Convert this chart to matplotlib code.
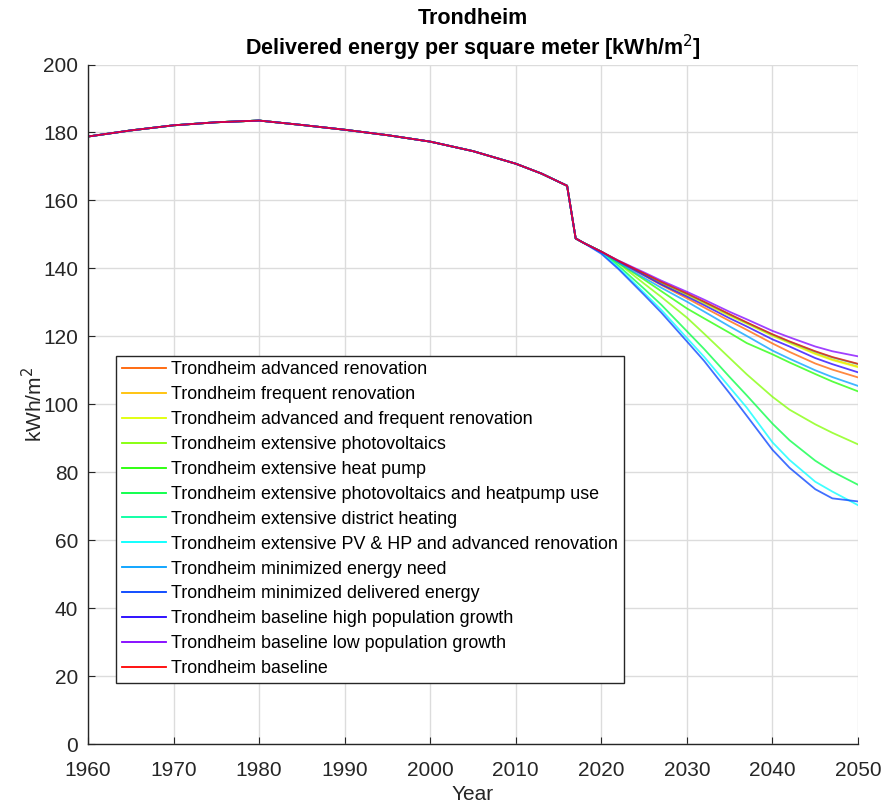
import matplotlib
matplotlib.use("Agg")
import matplotlib.pyplot as plt
import colorsys

plt.rcParams['font.family'] = ['Liberation Sans', 'DejaVu Sans']

# common history (all scenarios share it)
hist_years = [1960, 1965, 1970, 1975, 1980, 1985, 1990, 1995, 2000, 2005, 2010, 2013, 2016, 2017, 2018]
hist_vals = [178.8, 180.6, 182.1, 183.0, 183.5, 182.2, 180.8, 179.2, 177.3, 174.5, 170.8, 167.9, 164.3, 148.8, 147.4]

# scenario projections
fut_years = [2020, 2022, 2025, 2027, 2030, 2032, 2035, 2037, 2040, 2042, 2045, 2047, 2050]

labels = [
    "Trondheim advanced renovation",
    "Trondheim frequent renovation",
    "Trondheim advanced and frequent renovation",
    "Trondheim extensive photovoltaics",
    "Trondheim extensive heat pump",
    "Trondheim extensive photovoltaics and heatpump use",
    "Trondheim extensive district heating",
    "Trondheim extensive PV & HP and advanced renovation",
    "Trondheim minimized energy need",
    "Trondheim minimized delivered energy",
    "Trondheim baseline high population growth",
    "Trondheim baseline low population growth",
    "Trondheim baseline",
]

adv_renov      = [144.9, 142.0, 137.9, 135.1, 131.2, 128.5, 124.5, 121.9, 117.9, 115.4, 112.0, 110.2, 107.9]
freq_renov     = [144.9, 142.2, 138.3, 135.8, 132.3, 129.9, 126.2, 123.9, 120.3, 118.2, 115.0, 113.2, 111.1]
adv_freq_renov = [144.9, 142.1, 138.2, 135.6, 132.1, 129.7, 126.0, 123.7, 120.1, 118.0, 114.8, 113.0, 110.9]
ext_pv         = [144.9, 141.5, 135.5, 131.6, 125.5, 120.8, 113.6, 108.8, 102.2, 98.4, 94.1, 91.6, 88.2]
ext_hp         = [144.9, 141.6, 136.7, 133.3, 128.2, 125.3, 121.0, 118.0, 114.7, 112.3, 108.9, 106.7, 103.8]
ext_pv_hp      = [144.9, 140.8, 134.0, 129.3, 121.5, 116.3, 108.0, 102.6, 94.3, 89.4, 83.4, 80.2, 76.3]
ext_dh         = [144.9, 142.2, 138.4, 135.9, 132.5, 130.1, 126.4, 124.0, 120.5, 118.4, 115.5, 113.8, 111.8]
ext_pv_hp_adv  = [144.6, 140.2, 132.8, 127.8, 119.5, 114.0, 105.0, 99.0, 88.8, 83.6, 77.2, 74.3, 70.3]
min_need       = [144.9, 141.7, 137.2, 134.3, 130.2, 127.3, 122.9, 120.1, 115.8, 113.4, 110.0, 108.0, 105.4]
min_delivered  = [144.3, 139.8, 132.2, 127.0, 118.5, 112.8, 103.2, 96.6, 86.6, 81.3, 75.0, 72.3, 71.4]
high_pop       = [144.9, 142.1, 138.0, 135.3, 131.7, 129.2, 125.3, 122.9, 119.1, 117.0, 113.6, 111.8, 109.4]
low_pop        = [144.9, 142.3, 138.8, 136.4, 133.1, 130.8, 127.2, 125.0, 121.6, 119.7, 117.0, 115.6, 114.1]
baseline       = [144.9, 142.2, 138.5, 136.0, 132.6, 130.2, 126.5, 124.1, 120.6, 118.5, 115.6, 113.9, 111.9]

series = [adv_renov, freq_renov, adv_freq_renov, ext_pv, ext_hp, ext_pv_hp, ext_dh,
          ext_pv_hp_adv, min_need, min_delivered, high_pop, low_pop, baseline]

fig = plt.figure(figsize=(8.81, 8.07), dpi=100)
ax = fig.add_axes([88 / 881, 1 - 744 / 807, 770 / 881, 679.5 / 807])

n = len(series)
for i, (lab, vals) in enumerate(zip(labels, series)):
    if i == n - 1:
        col = (1.0, 0.0, 0.0)
    else:
        col = colorsys.hsv_to_rgb((i + 1) / 16, 1.0, 1.0)
    xs = hist_years + fut_years
    ys = hist_vals + vals
    ax.plot(xs, ys, color=col, lw=1.3, alpha=0.75, label=lab)

ax.set_xlim(1960, 2050)
ax.set_ylim(0, 200)
ax.set_xticks(range(1960, 2051, 10))
ax.set_yticks(range(0, 201, 20))
ax.grid(True, color='#dcdcdc', lw=1)
ax.set_axisbelow(True)
for s in ['top', 'right']:
    ax.spines[s].set_visible(False)
for s in ['left', 'bottom']:
    ax.spines[s].set_color('#262626')
    ax.spines[s].set_linewidth(1)
ax.tick_params(direction='in', length=5, labelsize=15, colors='#262626')
ax.tick_params(axis='x', pad=12)
ax.tick_params(axis='y', pad=7)

ax.set_xlabel("Year", fontsize=15, color='#262626', labelpad=4)
ax.set_ylabel("kWh/m$^2$", fontsize=15, color='#262626', labelpad=-2)

# two-line bold title
fig.text(473 / 881, 1 - 19 / 807, "Trondheim", ha='center', va='center',
         fontsize=15.5, fontweight='bold')
fig.text(473 / 881, 1 - 48 / 807, "Delivered energy per square meter [kWh/m$^2$]",
         ha='center', va='center', fontsize=15.5, fontweight='bold')

leg = ax.legend(loc='lower left', bbox_to_anchor=(0.0364, 0.0898), borderaxespad=0,
                fontsize=12.9, frameon=True, fancybox=False, framealpha=1,
                edgecolor='#262626', handlelength=2.45, handletextpad=0.3,
                labelspacing=0.44, borderpad=0.33)
leg.get_frame().set_linewidth(1)
for h in leg.get_lines():
    h.set_alpha(1.0)
    h.set_linewidth(1.3)

fig.savefig("out.png", dpi=100)
